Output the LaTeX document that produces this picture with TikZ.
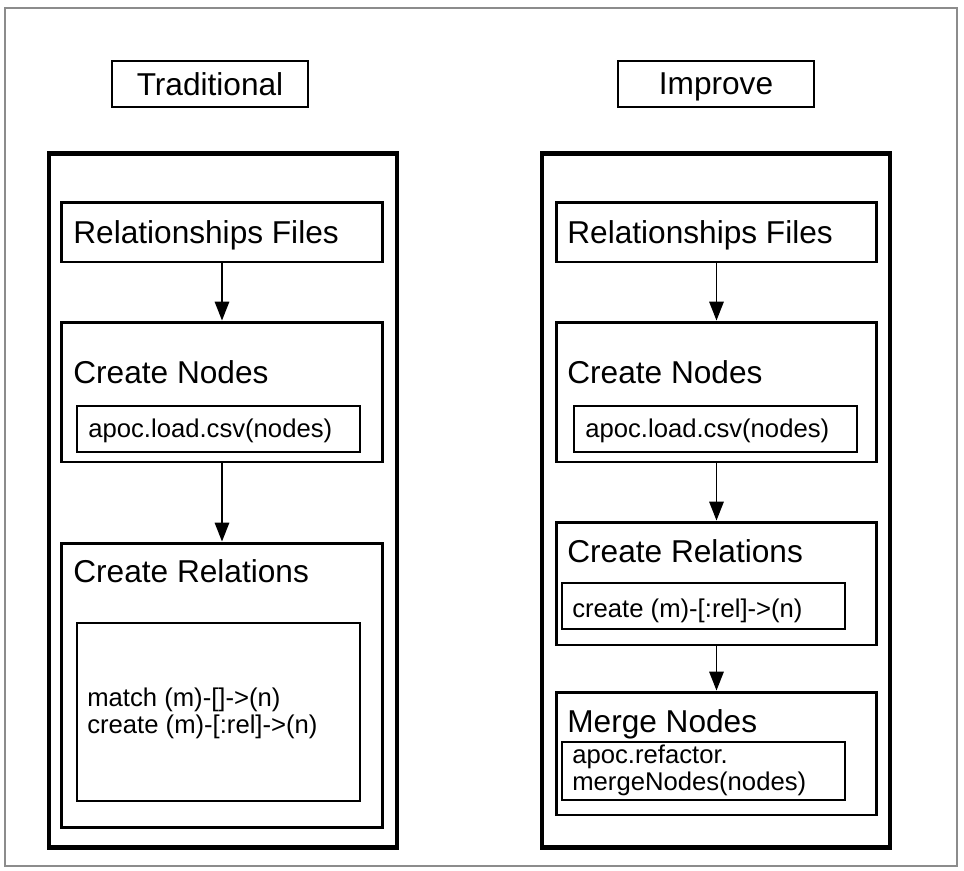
\documentclass[tikz,border=0pt]{standalone}
\usepackage{fontspec}
\setmainfont{Liberation Sans}
\usetikzlibrary{arrows.meta, positioning}

\begin{document}
\begin{tikzpicture}[x=0.02cm, y=-0.02cm,
    bigframe/.style={draw, line width=2.8pt, inner sep=0pt, minimum width=6.96cm, minimum height=13.9cm},
    stepbox/.style={draw, line width=1.7pt, inner sep=0pt, minimum width=6.42cm},
    codebox/.style={draw, line width=0.8pt, inner sep=0pt, minimum width=5.66cm},
    titlebox/.style={draw, line width=1pt, inner sep=0pt, text depth=0pt, minimum width=3.92cm, minimum height=0.92cm, font=\fontsize{18}{22}\selectfont},
    heading/.style={anchor=base west, inner sep=0pt, font=\fontsize{18}{22}\selectfont},
    code/.style={anchor=base west, inner sep=0pt, font=\fontsize{14.6}{17}\selectfont},
    flow/.style={-{Triangle[length=0.38cm, width=0.29cm]}, line width=1pt}]

    \useasboundingbox (0,0) rectangle (964,870);

    % grey outline
    \draw[black!45, line width=1pt] (5,8) rectangle (957,866);

    % titles
    \node[titlebox] (trad) at (210,84) {Traditional};
    \node[titlebox] (impr) at (716,84) {Improve};

    % big frames
    \node[bigframe] (lframe) at (223,500.5) {};
    \node[bigframe] (rframe) at (716,500.5) {};

    % traditional column
    \node[stepbox, minimum height=1.2cm] (lfiles) at (222,232) {};
    \node[heading] (lfilest) at (73,243) {Relationships Files};

    \node[stepbox, minimum height=2.8cm] (lnodes) at (222,392) {};
    \node[heading] (lnodest) at (73,383) {Create Nodes};
    \node[codebox, minimum height=0.92cm] (lload) at (218.5,429) {};
    \node[code] (lloadt) at (88,437) {apoc.load.csv(nodes)};

    \node[stepbox, minimum height=5.7cm] (lrels) at (222,685.5) {};
    \node[heading] (lrelst) at (73,582) {Create Relations};
    \node[codebox, minimum height=3.56cm] (lcypher) at (218.5,712) {};
    \node[code] (lmatch) at (87,706) {match (m)-[]->(n)};
    \node[code] (lcreate) at (87,733) {create (m)-[:rel]->(n)};

    \draw[flow] (lfiles.south) -- (lnodes.north);
    \draw[flow] (lnodes.south) -- (lrels.north);

    % improved column
    \node[stepbox, minimum height=1.2cm] (rfiles) at (716.5,232) {};
    \node[heading] (rfilest) at (567,243) {Relationships Files};

    \node[stepbox, minimum height=2.8cm] (rnodes) at (716.5,392) {};
    \node[heading] (rnodest) at (567,383) {Create Nodes};
    \node[codebox, minimum height=0.92cm] (rload) at (715.5,429) {};
    \node[code] (rloadt) at (585,437) {apoc.load.csv(nodes)};

    \node[stepbox, minimum height=2.46cm] (rrels) at (716.5,583.5) {};
    \node[heading] (rrelst) at (567,562) {Create Relations};
    \node[codebox, minimum height=0.92cm] (rcreate) at (703.5,606) {};
    \node[code] (rcreatet) at (572,617) {create (m)-[:rel]->(n)};

    \node[stepbox, minimum height=2.46cm] (rmerge) at (716.5,753.5) {};
    \node[heading] (rmerget) at (567,732) {Merge Nodes};
    \node[codebox, minimum height=1.16cm] (rrefactor) at (703.5,771) {};
    \node[code] (rrefactora) at (572,763) {apoc.refactor.};
    \node[code] (rrefactorb) at (572,790) {mergeNodes(nodes)};

    \draw[flow] (rfiles.south) -- (rnodes.north);
    \draw[flow] (rnodes.south) -- (rrels.north);
    \draw[flow] (rrels.south) -- (rmerge.north);

\end{tikzpicture}
\end{document}
